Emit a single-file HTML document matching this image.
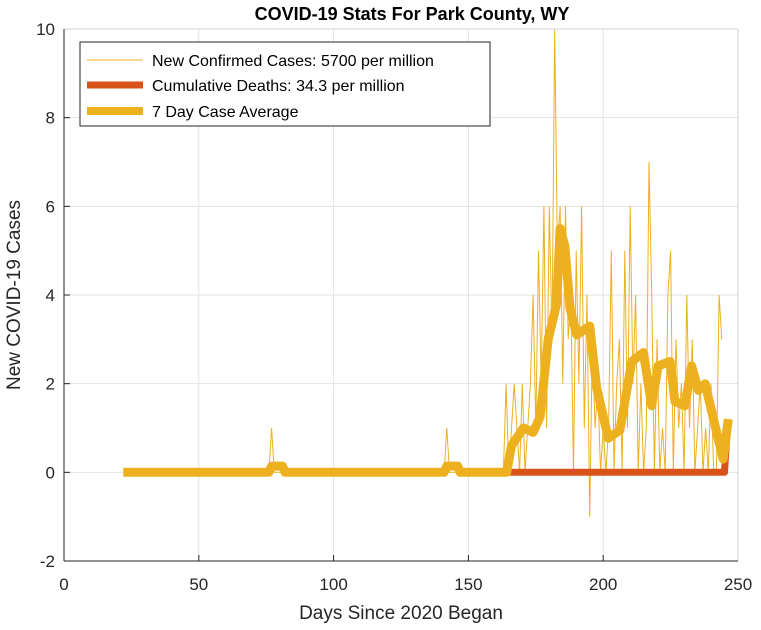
<!DOCTYPE html>
<html><head><meta charset="utf-8"><style>
body{margin:0;background:#fff;}
svg{display:block;font-family:"Liberation Sans",Arial,sans-serif;}
</style></head><body>
<svg id="chart" width="761" height="630">
<rect x="0" y="0" width="761" height="630" fill="#fff"/>
<text x="412" y="20" text-anchor="middle" font-size="18" font-weight="bold" fill="#000">COVID-19 Stats For Park County, WY</text>
<g id="grid"></g>
<g id="series"></g>
<g id="axes"></g>
<text x="401" y="619" text-anchor="middle" font-size="19" fill="#262626">Days Since 2020 Began</text>
<text transform="translate(20,295) rotate(-90)" text-anchor="middle" font-size="19" fill="#262626">New COVID-19 Cases</text>
<g>
<rect x="80" y="42" width="410" height="84" fill="#fff" stroke="#262626" stroke-width="1"/>
<line x1="87" y1="60" x2="143" y2="60" stroke="#EDB120" stroke-width="1"/>
<text x="152" y="66" font-size="16" fill="#000">New Confirmed Cases: 5700 per million</text>
<line x1="87" y1="85" x2="143" y2="85" stroke="#D95319" stroke-width="7"/>
<text x="152" y="91" font-size="16" fill="#000">Cumulative Deaths: 34.3 per million</text>
<line x1="87" y1="111" x2="143" y2="111" stroke="#EDB120" stroke-width="8"/>
<text x="152" y="117" font-size="16" fill="#000">7 Day Case Average</text>
</g>
</svg>
<script>
const xTicks=[0,50,100,150,200,250];
const yTicks=[-2,0,2,4,6,8,10];
const caseDays=[22,76,77,78,141,142,143,162,163,164,165,166,167,168,169,170,171,172,173,174,175,176,177,178,179,180,181,182,183,184,185,186,187,188,189,190,191,192,193,194,195,196,197,198,199,200,201,202,203,204,205,206,207,208,209,210,211,212,213,214,215,216,217,218,219,220,221,222,223,224,225,226,227,228,229,230,231,232,233,234,235,236,237,238,239,240,241,242,243,244];
const caseVals=[0,0,1,0,0,1,0,0,0,2,0,1,2,1,0,2,0,1,2,4,1,5,2,6,1,6,3,10,5,6,2,6,3,4,0,5,2,6,1,4,-1,3,1,2,0,1,0,1,5,0,2,3,0,5,1,6,2,4,0,2,0,1,7,4,0,3,0,1,0,4,5,0,3,1,2,0,4,1,3,0,1,2,0,1,0,2,0,0,4,3];
const avgDays=[22,76,77,81,82,141,142,146,147,163,164.2,166,170.4,174,176.6,179.6,182.7,184,185.8,187.7,190.2,195,197.6,201.9,206.2,210.6,214.9,218,220.4,224.8,226.6,230.3,232.8,235.3,237.8,242.1,244.5,246.4];
const avgVals=[0,0,0.14,0.14,0,0,0.14,0.14,0,0,0,0.6,1.0,0.9,1.25,3.0,3.8,5.5,5.1,3.7,3.1,3.3,1.9,0.77,0.95,2.5,2.7,1.5,2.4,2.5,1.6,1.5,2.4,1.85,2.0,0.9,0.3,1.2];
const deathDays=[163,245,246];
const deathVals=[0,0,0.95];
const L=64,R=738,T=29,B=561;
const sx=d=>L+(d-0)/(250-0)*(R-L);
const sy=v=>B-(v-(-2))/(10-(-2))*(B-T);
const NS="http://www.w3.org/2000/svg";
function mk(tag,attrs,parent){const e=document.createElementNS(NS,tag);for(const k in attrs)e.setAttribute(k,attrs[k]);parent.appendChild(e);return e;}
const grid=document.getElementById('grid'),axes=document.getElementById('axes'),ser=document.getElementById('series');
mk('rect',{x:L,y:T,width:R-L,height:B-T,fill:'#fff'},grid);
xTicks.forEach(t=>{const l=mk('line',{x1:sx(t),x2:sx(t),y1:T,y2:B,stroke:'#e3e3e3','stroke-width':1},grid);


const tx=mk('text',{x:sx(t),y:590,'text-anchor':'middle','font-size':17,fill:'#262626'},axes);tx.textContent=t;


mk('line',{x1:sx(t),x2:sx(t),y1:B,y2:B-6,stroke:'#262626'},axes);});
yTicks.forEach(t=>{const l=mk('line',{x1:L,x2:R,y1:sy(t),y2:sy(t),stroke:'#e3e3e3','stroke-width':1},grid);


const tx=mk('text',{x:55,y:sy(t)+6,'text-anchor':'end','font-size':17,fill:'#262626'},axes);tx.textContent=t;


mk('line',{x1:L,x2:L+6,y1:sy(t),y2:sy(t),stroke:'#262626'},axes);});
mk('line',{x1:L,x2:R,y1:T,y2:T,stroke:'#d0d0d0'},axes);
mk('line',{x1:R,x2:R,y1:T,y2:B,stroke:'#d0d0d0'},axes);
mk('line',{x1:L,x2:L,y1:T,y2:B,stroke:'#262626'},axes);
mk('line',{x1:L,x2:R,y1:B,y2:B,stroke:'#262626'},axes);
const pts=(ds,vs)=>ds.map((d,i)=>sx(d).toFixed(1)+','+sy(vs[i]).toFixed(1)).join(' ');
const p1=mk('polyline',{points:pts(caseDays,caseVals),fill:'none',stroke:'#EDB120','stroke-width':1},ser);


const p2=mk('polyline',{points:pts(deathDays,deathVals),fill:'none',stroke:'#D95319','stroke-width':7,'stroke-linejoin':'round','stroke-linecap':'round'},ser);


const p3=mk('polyline',{points:pts(avgDays,avgVals),fill:'none',stroke:'#EDB120','stroke-width':9,'stroke-linejoin':'round'},ser);


</script>
</body></html>
